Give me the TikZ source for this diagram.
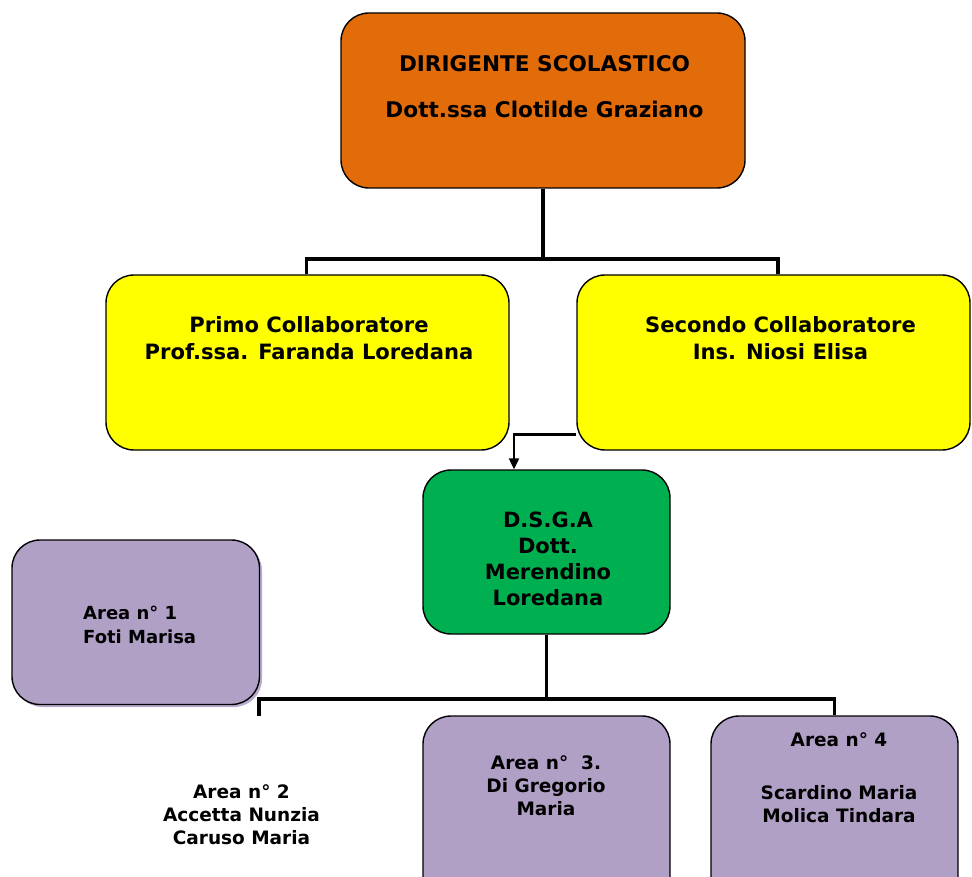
\documentclass[tikz,border=0pt]{standalone}
\usepackage{fontspec}
\setmainfont{DejaVu Sans}
\usetikzlibrary{arrows.meta,shadows}
\definecolor{orangebox}{RGB}{227,108,10}
\definecolor{yellowbox}{RGB}{255,255,0}
\definecolor{greenbox}{RGB}{0,176,80}
\definecolor{purplebox}{RGB}{176,160,198}
\definecolor{shadowc}{RGB}{186,172,208}
\begin{document}
\begin{tikzpicture}[x=1pt,y=-1pt,
  orgbox/.style={draw=black, line width=1.4pt, rounded corners=28pt, rectangle, inner sep=0pt},
  conn/.style={draw=black, line width=3.6pt, line join=miter},
  thinconn/.style={draw=black, line width=2.2pt},
  lbl/.style={inner sep=0pt, anchor=north, align=center, text=black}]
\useasboundingbox (0,0) rectangle (972,877);
\clip (0,0) rectangle (972,877);
\fill[white] (0,0) rectangle (972,877);

% boxes
\node[orgbox, fill=orangebox, minimum width=404pt, minimum height=175pt] (ds) at (543,100.5) {};
\node[orgbox, fill=yellowbox, minimum width=403pt, minimum height=175pt] (pc) at (307.5,362.5) {};
\node[orgbox, fill=yellowbox, minimum width=393pt, minimum height=175pt] (sc) at (773.5,362.5) {};
\node[orgbox, fill=greenbox, minimum width=247pt, minimum height=164pt] (dsga) at (546.5,552) {};
\node[orgbox, fill=purplebox, minimum width=247.5pt, minimum height=164.5pt,
      drop shadow={shadow xshift=2.5pt, shadow yshift=-2.5pt, fill=shadowc, opacity=1}] (a1) at (135.75,622.25) {};
\node[orgbox, fill=purplebox, minimum width=247pt, minimum height=190pt] (a3) at (546.5,811) {};
\node[orgbox, fill=purplebox, minimum width=247pt, minimum height=190pt] (a4) at (834.5,811) {};

% connectors top
\coordinate (t1) at (543,259);
\coordinate (hl) at (306.5,259);
\coordinate (hr) at (778,259);
\draw[conn] (ds.south) -- (t1);
\draw[conn] (hl |- pc.north) -- (hl) -- (hr) -- (hr |- sc.north);

% connector to DSGA
\coordinate (j) at (514,434.5);
\draw[thinconn] (sc.west |- j) -- ([xshift=-1.1pt]j);
\draw[thinconn, -{Triangle[length=11pt,width=10pt]}] (j) -- (j |- dsga.north);

% connectors bottom
\coordinate (b1) at (546.5,699);
\coordinate (bl) at (259,699);
\coordinate (br) at (834.5,699);
\coordinate (blend) at (259,716);
\draw[conn] (dsga.south) -- (b1);
\draw[conn] (blend) -- (bl) -- (br) -- (a4.north);

% labels
\node[lbl, font=\fontsize{21.6}{46}\selectfont\bfseries] (dst) at (544.5,55.3)
  {DIRIGENTE SCOLASTICO\\Dott.ssa Clotilde Graziano};
\node[lbl, font=\fontsize{21.1}{26.6}\selectfont\bfseries] (pct) at (309,316.7)
  {Primo Collaboratore\\Prof.ssa. Faranda Loredana};
\node[lbl, font=\fontsize{21.1}{26.6}\selectfont\bfseries] (sct) at (780.5,316.7)
  {Secondo Collaboratore\\Ins. Niosi Elisa};
\node[lbl, font=\fontsize{21}{26}\selectfont\bfseries] (dsgat) at (548,512)
  {D.S.G.A\\Dott.\\Merendino\\Loredana};
\node[lbl, anchor=north west, align=left, font=\fontsize{18}{23.4}\selectfont\bfseries] (a1t) at (83,606.2)
  {Area n° 1\\Foti Marisa};
\node[lbl, font=\fontsize{18.5}{23}\selectfont\bfseries] (a2t) at (241.5,784.8)
  {Area n° 2\\Accetta Nunzia\\Caruso Maria};
\node[lbl, font=\fontsize{18.5}{23}\selectfont\bfseries] (a3t) at (546,755)
  {Area n°\ \ 3.\\Di Gregorio\\Maria};
\node[lbl, font=\fontsize{18.5}{23}\selectfont\bfseries] (a4t) at (839,732)
  {Area n° 4\\[30pt]Scardino Maria\\Molica Tindara};
\end{tikzpicture}
\end{document}
